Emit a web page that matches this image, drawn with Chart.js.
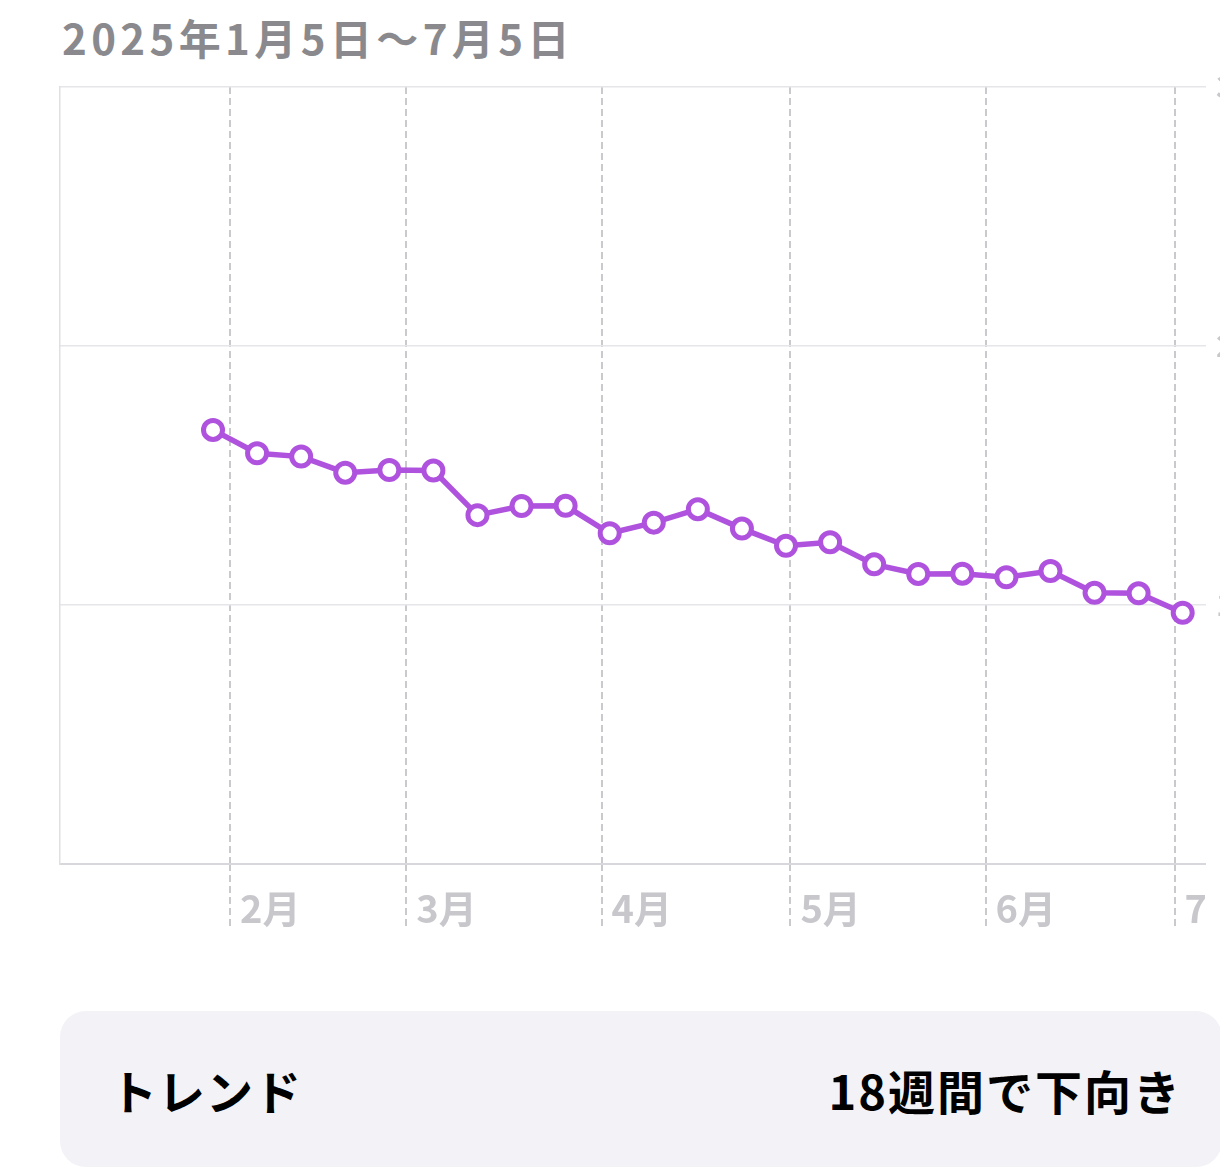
<!DOCTYPE html>
<html><head><meta charset="utf-8">
<script src="https://cdn.jsdelivr.net/npm/chart.js@4.4.1/dist/chart.umd.min.js"></script>
<style>
html,body{margin:0;padding:0;background:#fff;overflow:hidden;width:1220px;height:1172px;}
#title{position:absolute;left:62px;top:12px;font:700 42px "Noto Sans CJK JP";line-height:50px;color:#8a8a8e;white-space:nowrap;letter-spacing:4.4px}
#wrap{position:absolute;left:0;top:0;width:1300px;height:960px}
#box{position:absolute;left:60px;top:1011px;width:1162px;height:156px;background:#f2f2f7;border-radius:26px;display:flex;align-items:center;justify-content:space-between;box-sizing:border-box;padding:0 40px 0 50px;font:700 47px "Noto Sans CJK JP";color:#000}
#box .l{letter-spacing:1px}
#box .r{letter-spacing:2px}
</style></head>
<body>
<div id="title">2025年1月5日〜7月5日</div>
<div id="wrap"><canvas id="c" width="1300" height="960"></canvas></div>
<div id="box"><span class="l">トレンド</span><span class="r">18週間で下向き</span></div>
<script>
// x positions: days since Jan 5, 2025 (weekly points)
const dayOffsets = [24.3, 31.3, 38.3, 45.3, 52.3, 59.3, 66.3, 73.3, 80.3, 87.3, 94.3, 101.3, 108.3, 115.3, 122.3, 129.3, 136.3, 143.3, 150.3, 157.3, 164.3, 171.3, 178.3];
const values = [16.76, 15.86, 15.73, 15.11, 15.21, 15.19, 13.47, 13.82, 13.83, 12.77, 13.18, 13.70, 12.95, 12.29, 12.42, 11.57, 11.20, 11.21, 11.07, 11.31, 10.47, 10.45, 9.70];
const monthTickDays = [27, 55, 86, 116, 147, 177];
const monthLabels = ['2月','3月','4月','5月','6月','7月'];
const yTicks = [0, 10, 20, 30];
const xRange = [0, 182];

const purple = '#af52de';
const points = dayOffsets.map((d, i) => ({x: d, y: values[i]}));

const clipRight = {
  id: 'clipRight',
  afterDraw(chart) {
    const {ctx, chartArea} = chart;
    ctx.save();
    ctx.fillStyle = '#ffffff';
    ctx.fillRect(chartArea.right - 1, chartArea.bottom + 2, 40, 90);
    ctx.restore();
  }
};

new Chart(document.getElementById('c'), {
  type: 'line',
  data: {
    datasets: [{
      data: points,
      borderColor: purple,
      borderWidth: 5.5,
      tension: 0,
      pointRadius: 9.5,
      pointHoverRadius: 9.5,
      pointBorderWidth: 5,
      pointBackgroundColor: '#ffffff',
      pointBorderColor: purple
    }]
  },
  options: {
    responsive: false,
    animation: false,
    devicePixelRatio: 1,
    layout: {padding: {left: 60, top: 87, right: 0, bottom: 0}},
    plugins: {legend: {display: false}, tooltip: {enabled: false}},
    scales: {
      x: {
        type: 'linear',
        position: 'bottom',
        min: xRange[0], max: xRange[1],
        afterBuildTicks: s => { s.ticks = monthTickDays.map(v => ({value: v})); },
        afterFit: s => { s.height = 96; },
        grid: {
          display: true, drawOnChartArea: true, drawTicks: true,
          tickLength: 62, color: '#c9c9ce', lineWidth: 2,
          tickBorderDash: [7, 4], tickColor: '#c9c9ce'
        },
        border: {display: false, dash: [7, 4]},
        ticks: {
          autoSkip: false, maxRotation: 0, align: 'start', labelOffset: 10, padding: -40,
          color: '#c7c7cc', font: {family: 'Noto Sans CJK JP', weight: 'bold', size: 38},
          callback: v => { const i = monthTickDays.indexOf(v); return i >= 0 ? monthLabels[i] : ''; }
        }
      },
      y: {
        type: 'linear',
        position: 'right',
        min: yTicks[0], max: yTicks[yTicks.length - 1],
        afterBuildTicks: s => { s.ticks = yTicks.map(v => ({value: v})); },
        afterFit: s => { s.width = 94; },
        grid: {display: true, drawTicks: false, color: (c) => c.tick && c.tick.value === 0 ? '#d8d8dc' : '#e5e5ea', lineWidth: (c) => c.tick && c.tick.value === 0 ? 2 : 1.5},
        border: {display: false},
        ticks: {padding: 10, color: '#c7c7cc', font: {family: 'Noto Sans CJK JP', weight: 'bold', size: 30},
          callback: v => v === 0 ? '' : String(v)}
      },
      yl: {
        type: 'linear',
        position: 'left',
        min: yTicks[0], max: yTicks[yTicks.length - 1],
        afterFit: s => { s.width = 0; },
        grid: {display: false, drawTicks: false},
        border: {display: true, color: '#e0e0e4', width: 1.5},
        ticks: {display: false}
      }
    }
  },
  plugins: [clipRight]
});
</script>
</body></html>
